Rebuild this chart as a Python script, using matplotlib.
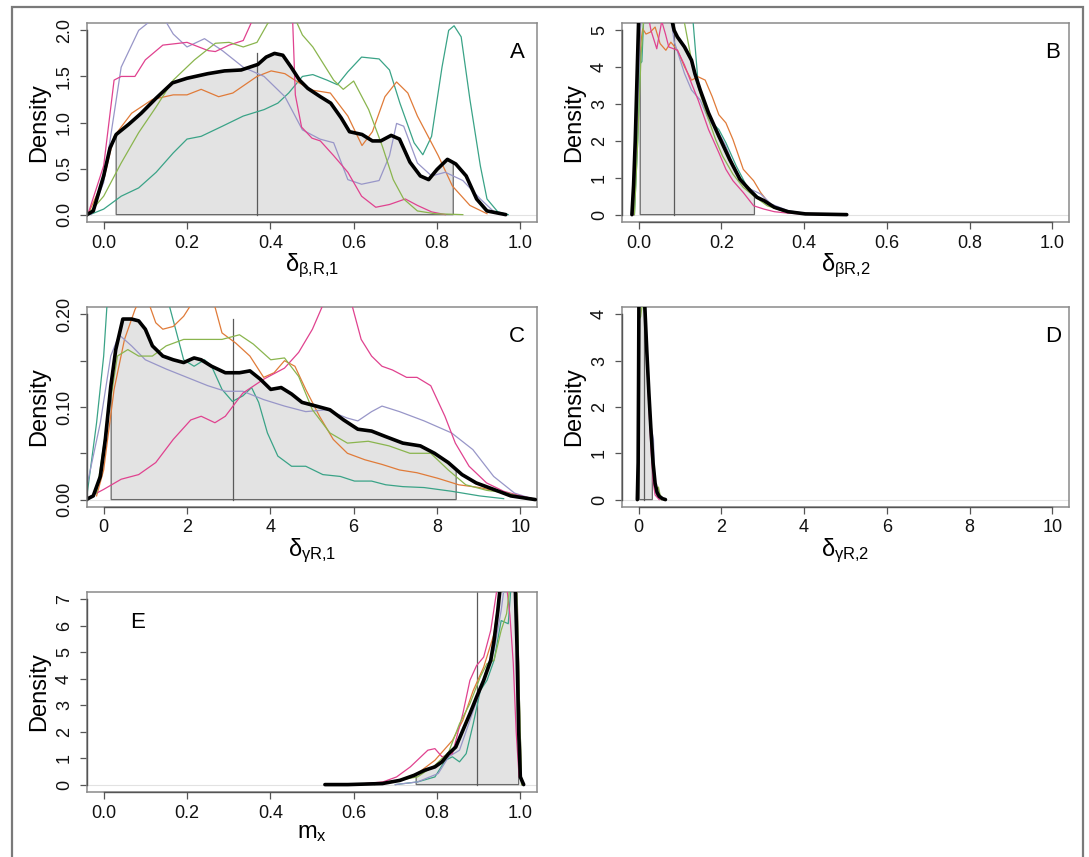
import matplotlib
matplotlib.use("Agg")
import matplotlib.pyplot as plt
import numpy as np
from matplotlib.patches import Rectangle

plt.rcParams['font.family'] = ['Liberation Sans', 'DejaVu Sans']
plt.rcParams['mathtext.fontset'] = 'custom'
plt.rcParams['mathtext.rm'] = 'Liberation Sans'
plt.rcParams['mathtext.it'] = 'Liberation Sans'
plt.rcParams['mathtext.bf'] = 'Liberation Sans:bold'

# chain colours: teal, orange, purple, magenta, green
col_teal, col_orange, col_purple, col_magenta, col_green = '#3aa387', '#e07b39', '#9896c8', '#e0428f', '#8ab54e'

# ---------------- panel A ----------------
a_black_x = [-0.04, -0.025, 0.0, 0.015, 0.03, 0.06, 0.09, 0.125, 0.165, 0.2, 0.25, 0.29, 0.33, 0.37, 0.39,
             0.41, 0.43, 0.45, 0.47, 0.49, 0.52, 0.545, 0.57, 0.59, 0.62, 0.645, 0.665, 0.69, 0.71, 0.735,
             0.76, 0.78, 0.80, 0.825, 0.845, 0.87, 0.895, 0.92, 0.965]
a_black_y = [0.0, 0.04, 0.42, 0.72, 0.87, 0.98, 1.10, 1.26, 1.43, 1.48, 1.53, 1.56, 1.57, 1.63, 1.71,
             1.75, 1.73, 1.60, 1.46, 1.37, 1.28, 1.21, 1.05, 0.90, 0.87, 0.80, 0.80, 0.86, 0.82, 0.57,
             0.42, 0.38, 0.49, 0.60, 0.55, 0.42, 0.17, 0.04, 0.0]
a_teal_x = [-0.033, 0.0, 0.042, 0.084, 0.126, 0.167, 0.2, 0.234, 0.285, 0.335, 0.385, 0.418, 0.444, 0.477,
            0.502, 0.536, 0.561, 0.586, 0.619, 0.661, 0.686, 0.711, 0.745, 0.766, 0.787, 0.812, 0.828,
            0.841, 0.858, 0.879, 0.904, 0.92, 0.946, 0.971]
a_teal_y = [0.0, 0.06, 0.2, 0.29, 0.46, 0.67, 0.82, 0.85, 0.96, 1.07, 1.14, 1.21, 1.32, 1.5,
            1.52, 1.46, 1.41, 1.55, 1.71, 1.69, 1.57, 1.21, 0.78, 0.65, 0.85, 1.6, 2.0,
            2.05, 1.93, 1.25, 0.53, 0.17, 0.03, 0.0]
a_orange_x = [-0.038, 0.0, 0.025, 0.067, 0.117, 0.167, 0.2, 0.234, 0.276, 0.31, 0.368, 0.402, 0.435, 0.469,
              0.502, 0.544, 0.586, 0.62, 0.645, 0.675, 0.703, 0.73, 0.753, 0.803, 0.837, 0.879, 0.92]
a_orange_y = [0.0, 0.38, 0.85, 1.10, 1.25, 1.30, 1.30, 1.36, 1.28, 1.32, 1.50, 1.56, 1.53, 1.43,
              1.35, 1.32, 1.07, 0.75, 0.90, 1.28, 1.44, 1.32, 1.07, 0.64, 0.31, 0.10, 0.01]
a_purple_x = [-0.03, 0.0, 0.042, 0.084, 0.117, 0.142, 0.167, 0.2, 0.242, 0.285, 0.335, 0.385, 0.435, 0.477,
              0.519, 0.552, 0.586, 0.619, 0.661, 0.686, 0.703, 0.72, 0.753, 0.787, 0.82, 0.862, 0.904,
              0.937, 0.96]
a_purple_y = [0.0, 0.35, 1.6, 2.0, 2.12, 2.15, 1.96, 1.82, 1.91, 1.78, 1.6, 1.5, 1.28, 0.92,
              0.82, 0.78, 0.38, 0.33, 0.37, 0.64, 0.99, 0.96, 0.56, 0.42, 0.46, 0.37, 0.17,
              0.03, 0.0]
a_magenta_x = [-0.038, 0.0, 0.025, 0.042, 0.075, 0.1, 0.142, 0.2, 0.251, 0.268, 0.301, 0.335, 0.351, 0.385,
               0.435, 0.452, 0.46, 0.475, 0.5, 0.52, 0.552, 0.586, 0.619, 0.653, 0.686, 0.724, 0.753,
               0.787, 0.82]
a_magenta_y = [0.0, 0.53, 1.46, 1.50, 1.50, 1.68, 1.84, 1.87, 1.78, 1.77, 1.84, 1.89, 2.05, 2.4,
               2.6, 2.3, 1.3, 0.95, 0.83, 0.80, 0.64, 0.46, 0.20, 0.08, 0.11, 0.17, 0.10,
               0.03, 0.0]
a_green_x = [-0.038, 0.0, 0.042, 0.084, 0.126, 0.167, 0.218, 0.268, 0.301, 0.335, 0.368, 0.393, 0.418,
             0.452, 0.477, 0.502, 0.552, 0.575, 0.6, 0.636, 0.669, 0.695, 0.72, 0.753, 0.795, 0.862]
a_green_y = [0.0, 0.2, 0.56, 0.89, 1.17, 1.46, 1.68, 1.86, 1.87, 1.82, 1.87, 2.07, 2.2,
             2.2, 1.95, 1.82, 1.46, 1.36, 1.45, 1.14, 0.74, 0.38, 0.17, 0.04, 0.01, 0.0]
a_lo, a_hi, a_med, a_med_top = 0.03, 0.839, 0.369, 1.75

# ---------------- panel B ----------------
b_black_x = [-0.016, -0.012, -0.008, -0.004, 0.0, 0.01, 0.03, 0.05, 0.07, 0.082, 0.086, 0.094, 0.111,
             0.128, 0.136, 0.149, 0.169, 0.194, 0.22, 0.245, 0.27, 0.286, 0.303, 0.328, 0.361, 0.403, 0.503]
b_black_y = [0.0, 0.8, 2.0, 3.6, 5.2, 6.8, 7.6, 7.2, 6.0, 5.2, 5.0, 4.82, 4.55,
             4.19, 3.83, 3.38, 2.76, 2.13, 1.5, 0.96, 0.65, 0.47, 0.38, 0.2, 0.08, 0.02, 0.0]
b_teal_x = [-0.01, -0.002, 0.004, 0.008, 0.015, 0.05, 0.1, 0.125, 0.132, 0.144, 0.161, 0.178, 0.194,
            0.211, 0.236, 0.261, 0.286, 0.311, 0.345, 0.395, 0.45]
b_teal_y = [0.0, 2.0, 4.1, 4.15, 6.0, 8.0, 7.0, 6.0, 5.2, 3.56, 2.94, 2.49, 2.31,
            1.95, 1.32, 0.78, 0.51, 0.29, 0.11, 0.02, 0.0]
b_orange_x = [-0.012, -0.004, 0.0, 0.01, 0.018, 0.028, 0.04, 0.052, 0.066, 0.078, 0.094, 0.111, 0.128,
              0.144, 0.161, 0.178, 0.194, 0.211, 0.228, 0.253, 0.278, 0.295, 0.32, 0.361, 0.41, 0.46]
b_orange_y = [0.0, 2.5, 4.2, 5.04, 4.9, 4.95, 5.09, 4.64, 4.46, 4.68, 4.46, 4.01, 3.65,
              3.74, 3.65, 3.2, 2.71, 2.49, 2.04, 1.23, 0.92, 0.6, 0.24, 0.08, 0.01, 0.0]
b_purple_x = [-0.012, -0.004, 0.004, 0.02, 0.05, 0.075, 0.086, 0.111, 0.128, 0.149, 0.169, 0.194, 0.211,
              0.236, 0.261, 0.295, 0.32, 0.361, 0.411, 0.46]
b_purple_y = [0.0, 2.2, 5.0, 6.8, 7.0, 5.6, 4.7, 3.83, 3.38, 3.11, 2.58, 2.22, 1.86,
              1.14, 0.74, 0.56, 0.29, 0.11, 0.02, 0.0]
b_magenta_x = [-0.014, -0.006, 0.0, 0.008, 0.02, 0.03, 0.044, 0.056, 0.065, 0.073, 0.094, 0.111, 0.128,
               0.144, 0.169, 0.194, 0.211, 0.228, 0.253, 0.278, 0.303, 0.328, 0.361, 0.411, 0.46]
b_magenta_y = [0.0, 2.0, 5.0, 6.5, 5.6, 5.0, 4.5, 5.25, 4.9, 4.55, 4.46, 4.06, 3.56,
               3.11, 2.31, 1.68, 1.23, 0.92, 0.6, 0.24, 0.15, 0.08, 0.04, 0.01, 0.0]
b_green_x = [-0.01, -0.002, 0.006, 0.02, 0.06, 0.1, 0.111, 0.128, 0.144, 0.161, 0.186, 0.203, 0.228,
             0.253, 0.278, 0.311, 0.353, 0.411, 0.46]
b_green_y = [0.0, 2.0, 4.3, 6.5, 7.5, 6.0, 5.2, 4.19, 3.47, 2.85, 2.04, 1.59, 1.1,
             0.74, 0.51, 0.24, 0.08, 0.01, 0.0]
b_lo, b_hi, b_med, b_med_top = 0.004, 0.28, 0.086, 5.3

# ---------------- panel C ----------------
c_black_x = [-0.42, -0.25, -0.08, 0.04, 0.17, 0.29, 0.46, 0.67, 0.84, 1.0, 1.17, 1.42, 1.67, 1.92, 2.17,
             2.34, 2.59, 2.92, 3.26, 3.51, 3.76, 4.01, 4.26, 4.51, 4.76, 5.1, 5.43, 5.76, 6.1, 6.43,
             6.77, 7.18, 7.6, 7.94, 8.27, 8.6, 8.94, 9.36, 9.77, 10.36]
c_black_y = [0.0, 0.004, 0.025, 0.065, 0.122, 0.162, 0.195, 0.195, 0.193, 0.184, 0.166, 0.155, 0.151,
             0.148, 0.153, 0.151, 0.144, 0.137, 0.137, 0.139, 0.13, 0.119, 0.121, 0.114, 0.105, 0.101,
             0.097, 0.086, 0.076, 0.074, 0.068, 0.061, 0.058, 0.05, 0.04, 0.027, 0.018, 0.011, 0.004, 0.0]
c_teal_x = [-0.4, -0.17, 0.0, 0.08, 0.3, 0.8, 1.3, 1.59, 1.75, 1.92, 2.17, 2.42, 2.59, 2.84, 3.09, 3.34,
            3.55, 3.72, 3.93, 4.18, 4.51, 4.85, 5.26, 5.68, 6.02, 6.43, 6.77, 7.18, 7.69, 8.35, 9.02, 9.6]
c_teal_y = [0.005, 0.083, 0.155, 0.21, 0.28, 0.3, 0.26, 0.207, 0.18, 0.151, 0.144, 0.151, 0.144, 0.119,
            0.106, 0.112, 0.121, 0.105, 0.072, 0.047, 0.036, 0.036, 0.027, 0.025, 0.02, 0.02, 0.016,
            0.014, 0.013, 0.009, 0.004, 0.001]
c_orange_x = [-0.17, 0.0, 0.25, 0.5, 0.75, 0.85, 1.0, 1.1, 1.25, 1.42, 1.67, 1.92, 2.09, 2.3, 2.6, 2.84,
              3.17, 3.51, 3.84, 4.09, 4.34, 4.59, 4.85, 5.18, 5.51, 5.85, 6.27, 6.68, 7.1, 7.52, 8.02,
              8.52, 9.02, 9.44, 9.86, 10.28]
c_orange_y = [0.004, 0.032, 0.119, 0.173, 0.205, 0.215, 0.22, 0.21, 0.191, 0.184, 0.187, 0.198, 0.21,
              0.23, 0.22, 0.18, 0.169, 0.155, 0.132, 0.137, 0.15, 0.144, 0.119, 0.09, 0.065, 0.05,
              0.043, 0.038, 0.032, 0.029, 0.023, 0.016, 0.013, 0.009, 0.005, 0.001]
c_purple_x = [-0.42, -0.08, 0.17, 0.37, 0.67, 1.0, 1.5, 2.0, 2.5, 2.92, 3.34, 3.84, 4.34, 4.85, 5.35,
              5.85, 6.1, 6.43, 6.68, 7.1, 7.69, 8.35, 8.86, 9.36, 9.86, 10.28]
c_purple_y = [0.011, 0.083, 0.155, 0.178, 0.166, 0.151, 0.141, 0.132, 0.123, 0.117, 0.117, 0.108, 0.101,
              0.095, 0.097, 0.088, 0.085, 0.095, 0.101, 0.095, 0.085, 0.072, 0.054, 0.025, 0.007, 0.001]
c_magenta_x = [-0.42, 0.0, 0.42, 0.84, 1.25, 1.67, 2.09, 2.34, 2.67, 2.92, 3.34, 3.84, 4.34, 4.68, 5.01,
               5.26, 5.6, 5.9, 6.18, 6.43, 6.68, 6.93, 7.27, 7.52, 7.85, 8.19, 8.44, 8.77, 9.19, 9.6,
               10.0, 10.4]
c_magenta_y = [0.001, 0.011, 0.022, 0.027, 0.04, 0.065, 0.086, 0.09, 0.083, 0.09, 0.115, 0.13, 0.142,
               0.159, 0.184, 0.21, 0.235, 0.22, 0.173, 0.155, 0.144, 0.14, 0.132, 0.132, 0.123, 0.09,
               0.061, 0.036, 0.018, 0.009, 0.004, 0.0]
c_green_x = [-0.17, 0.08, 0.33, 0.58, 0.84, 1.17, 1.5, 1.92, 2.34, 2.84, 3.26, 3.59, 4.01, 4.34, 4.68,
             5.01, 5.43, 5.85, 6.35, 6.85, 7.35, 7.85, 8.27, 8.69, 9.19, 9.69, 10.1]
c_green_y = [0.007, 0.083, 0.155, 0.162, 0.155, 0.155, 0.166, 0.173, 0.173, 0.173, 0.178, 0.168, 0.151,
             0.153, 0.133, 0.097, 0.072, 0.061, 0.063, 0.058, 0.05, 0.05, 0.032, 0.016, 0.01, 0.007, 0.002]
c_lo, c_hi, c_med, c_med_top = 0.18, 8.46, 3.11, 0.195

# ---------------- panel D ----------------
d_black_x = [-0.03, -0.01, 0.0, 0.01, 0.02, 0.04, 0.08, 0.12, 0.15, 0.2, 0.25, 0.3, 0.35, 0.4, 0.45,
             0.5, 0.58, 0.65]
d_black_y = [0.0, 0.8, 2.5, 4.5, 6.5, 8.0, 8.5, 6.5, 4.2, 3.2, 2.3, 1.5, 0.8, 0.35, 0.15, 0.07, 0.02, 0.0]
d_teal_x = [-0.02, 0.0, 0.02, 0.05, 0.1, 0.15, 0.2, 0.25, 0.3, 0.35, 0.4, 0.45, 0.55]
d_teal_y = [0.0, 1.5, 5.5, 8.5, 7.5, 4.4, 3.3, 2.4, 1.5, 0.7, 0.25, 0.08, 0.0]
d_orange_x = [-0.02, 0.0, 0.02, 0.05, 0.1, 0.15, 0.2, 0.25, 0.3, 0.35, 0.4, 0.45, 0.55]
d_orange_y = [0.0, 1.2, 5.0, 8.0, 8.0, 4.3, 3.1, 2.2, 1.4, 0.8, 0.3, 0.1, 0.0]
d_purple_x = [-0.02, 0.0, 0.02, 0.05, 0.1, 0.15, 0.2, 0.25, 0.3, 0.33, 0.36, 0.39, 0.42, 0.5, 0.6]
d_purple_y = [0.0, 0.8, 4.0, 7.0, 7.0, 4.6, 3.4, 2.4, 1.6, 1.45, 1.3, 0.5, 0.15, 0.03, 0.0]
d_magenta_x = [-0.02, 0.0, 0.02, 0.05, 0.1, 0.15, 0.2, 0.25, 0.3, 0.35, 0.4, 0.5]
d_magenta_y = [0.0, 1.0, 6.0, 9.0, 7.5, 4.3, 3.0, 2.0, 1.1, 0.4, 0.1, 0.0]
d_green_x = [-0.02, 0.0, 0.02, 0.05, 0.1, 0.15, 0.2, 0.25, 0.3, 0.35, 0.4, 0.45, 0.48, 0.52, 0.6]
d_green_y = [0.0, 1.0, 3.9, 3.95, 4.3, 4.0, 3.0, 2.2, 1.4, 0.7, 0.3, 0.2, 0.27, 0.1, 0.0]
d_lo, d_hi, d_med, d_med_top = 0.02, 0.333, 0.125, 4.3

# ---------------- panel E ----------------
e_black_x = [0.531, 0.586, 0.669, 0.711, 0.745, 0.77, 0.795, 0.812, 0.828, 0.845, 0.862, 0.879, 0.895,
             0.912, 0.929, 0.937, 0.946, 0.955, 0.97, 0.985, 0.992, 0.996, 1.0, 1.008]
e_black_y = [0.0, 0.0, 0.04, 0.16, 0.35, 0.54, 0.67, 0.86, 1.17, 1.42, 2.05, 2.68, 3.31,
             3.94, 4.7, 5.45, 6.58, 8.0, 9.5, 9.0, 5.2, 2.05, 0.29, 0.0]
e_teal_x = [0.7, 0.753, 0.795, 0.82, 0.837, 0.854, 0.87, 0.887, 0.904, 0.92, 0.937, 0.954, 0.971, 0.98,
            0.99, 0.998, 1.003]
e_teal_y = [0.0, 0.1, 0.29, 0.92, 1.05, 0.86, 1.17, 2.3, 3.56, 3.94, 4.7, 6.2, 6.08, 8.0, 8.5, 3.0, 0.0]
e_orange_x = [0.62, 0.711, 0.753, 0.795, 0.837, 0.862, 0.887, 0.912, 0.937, 0.95, 0.97, 0.99, 0.998, 1.003]
e_orange_y = [0.0, 0.16, 0.42, 0.92, 1.67, 2.43, 3.56, 4.44, 5.7, 7.3, 9.0, 9.0, 3.0, 0.0]
e_purple_x = [0.7, 0.753, 0.803, 0.828, 0.854, 0.879, 0.904, 0.92, 0.937, 0.954, 0.97, 0.99, 0.998, 1.003]
e_purple_y = [0.0, 0.1, 0.42, 1.05, 1.3, 2.43, 3.56, 4.44, 5.07, 6.58, 8.5, 9.0, 3.0, 0.0]
e_magenta_x = [0.6, 0.67, 0.703, 0.736, 0.778, 0.795, 0.812, 0.837, 0.862, 0.879, 0.895, 0.912, 0.929,
               0.945, 0.96, 0.975, 0.983, 0.99, 0.997]
e_magenta_y = [0.0, 0.1, 0.29, 0.67, 1.3, 1.36, 1.05, 1.17, 2.68, 3.94, 4.5, 4.82, 5.83,
               7.5, 8.5, 6.4, 4.6, 2.0, 0.3]
e_green_x = [0.65, 0.753, 0.795, 0.828, 0.854, 0.879, 0.904, 0.92, 0.937, 0.954, 0.967, 0.975, 0.99,
             0.998, 1.003]
e_green_y = [0.0, 0.29, 0.73, 1.23, 2.3, 3.06, 4.07, 4.57, 4.7, 5.83, 6.46, 7.5, 8.5, 3.0, 0.0]
e_lo, e_hi, e_med, e_med_top = 0.75, 0.996, 0.895, 7.5

unit_ticks = [0.0, 0.2, 0.4, 0.6, 0.8, 1.0]
unit_labels = ['0.0', '0.2', '0.4', '0.6', '0.8', '1.0']
ten_ticks = [0, 2, 4, 6, 8, 10]
ten_labels = ['0', '2', '4', '6', '8', '10']

W, H = 1089, 857
fig = plt.figure(figsize=(W / 100, H / 100), dpi=100)
fig.patches.append(Rectangle((12.5 / W, -0.05), (1083 - 12.5) / W, 1 - 7 / H + 0.05,
                             transform=fig.transFigure, fill=False, edgecolor='#7a7a7a', lw=1.6))


def panel(rect, bx, by, chains, lo, hi, med, med_top, xlim, ylim, xt, xtl, yt, ytl, xlabel, letter, lpos):
    ax = fig.add_axes([rect[0] / W, 1 - rect[3] / H, (rect[2] - rect[0]) / W, (rect[3] - rect[1]) / H])
    ax.set_xlim(xlim)
    ax.set_ylim(ylim)
    ax.axhline(0, color='#e2e2e2', lw=0.8, zorder=0)
    bx = np.asarray(bx)
    by = np.asarray(by)
    inside = (bx > lo) & (bx < hi)
    px = np.concatenate([[lo, lo], bx[inside], [hi, hi]])
    py = np.concatenate([[0, np.interp(lo, bx, by)], by[inside], [np.interp(hi, bx, by), 0]])
    ax.fill(px, py, facecolor='#e3e3e3', edgecolor='#6a6a6a', lw=0.9, zorder=1)
    ax.plot([med, med], [0, med_top], color='#5a5a5a', lw=0.9, zorder=2)
    for (cx, cy), c in zip(chains, [col_teal, col_orange, col_purple, col_magenta, col_green]):
        ax.plot(cx, cy, color=c, lw=0.9, zorder=3)
    ax.plot(bx, by, color='black', lw=2.6, zorder=5, solid_capstyle='round', solid_joinstyle='round')
    ax.set_xticks(xt)
    ax.set_xticklabels(xtl)
    ax.set_yticks(yt)
    ax.set_yticklabels(ytl, rotation=90, va='center')
    ax.tick_params(direction='out', length=5, width=0.9, color='#555555', labelsize=13,
                   labelcolor='#111111')
    ax.tick_params(axis='x', pad=4)
    ax.tick_params(axis='y', pad=5)
    for s in ax.spines.values():
        s.set_color('#8a8a8a')
        s.set_linewidth(1.1)
    ax.plot([xt[0], xt[-1]], [ylim[0], ylim[0]], color='#555555', lw=1.0, clip_on=False, zorder=6)
    ax.plot([xlim[0], xlim[0]], [yt[0], yt[-1]], color='#555555', lw=1.0, clip_on=False, zorder=6)
    ax.set_xlabel(xlabel, fontsize=17, labelpad=0)
    ax.set_ylabel('Density', fontsize=17, labelpad=4)
    ax.text(lpos[0], lpos[1], letter, transform=ax.transAxes, fontsize=16, ha='center', va='center')
    return ax


panel((87, 23, 537, 222), a_black_x, a_black_y,
      [(a_teal_x, a_teal_y), (a_orange_x, a_orange_y), (a_purple_x, a_purple_y),
       (a_magenta_x, a_magenta_y), (a_green_x, a_green_y)],
      a_lo, a_hi, a_med, a_med_top, (-0.04, 1.04), (-0.08, 2.08), unit_ticks, unit_labels,
      [0, 0.5, 1.0, 1.5, 2.0], ['0.0', '0.5', '1.0', '1.5', '2.0'],
      r'$\delta_{\beta{,}R{,}1}$', 'A', (0.956, 0.85))

panel((622, 23, 1069, 222), b_black_x, b_black_y,
      [(b_teal_x, b_teal_y), (b_orange_x, b_orange_y), (b_purple_x, b_purple_y),
       (b_magenta_x, b_magenta_y), (b_green_x, b_green_y)],
      b_lo, b_hi, b_med, b_med_top, (-0.04, 1.04), (-0.2, 5.2), unit_ticks, unit_labels,
      [0, 1, 2, 3, 4, 5], ['0', '1', '2', '3', '4', '5'],
      r'$\delta_{\beta R{,}2}$', 'B', (0.964, 0.85))

panel((87, 307, 537, 507), c_black_x, c_black_y,
      [(c_teal_x, c_teal_y), (c_orange_x, c_orange_y), (c_purple_x, c_purple_y),
       (c_magenta_x, c_magenta_y), (c_green_x, c_green_y)],
      c_lo, c_hi, c_med, c_med_top, (-0.4, 10.4), (-0.008, 0.208), ten_ticks, ten_labels,
      [0, 0.05, 0.10, 0.15, 0.20], ['0.00', '', '0.10', '', '0.20'],
      r'$\delta_{\gamma R{,}1}$', 'C', (0.956, 0.85))

panel((622, 307, 1069, 507), d_black_x, d_black_y,
      [(d_teal_x, d_teal_y), (d_orange_x, d_orange_y), (d_purple_x, d_purple_y),
       (d_magenta_x, d_magenta_y), (d_green_x, d_green_y)],
      d_lo, d_hi, d_med, d_med_top, (-0.4, 10.4), (-0.16, 4.16), ten_ticks, ten_labels,
      [0, 1, 2, 3, 4], ['0', '1', '2', '3', '4'],
      r'$\delta_{\gamma R{,}2}$', 'D', (0.964, 0.85))

panel((87, 592, 537, 792), e_black_x, e_black_y,
      [(e_teal_x, e_teal_y), (e_orange_x, e_orange_y), (e_purple_x, e_purple_y),
       (e_magenta_x, e_magenta_y), (e_green_x, e_green_y)],
      e_lo, e_hi, e_med, e_med_top, (-0.04, 1.04), (-0.28, 7.28), unit_ticks, unit_labels,
      [0, 1, 2, 3, 4, 5, 6, 7], ['0', '1', '2', '3', '4', '5', '6', '7'],
      r'$m_x$', 'E', (0.113, 0.845))

fig.savefig('out.png', dpi=100)
